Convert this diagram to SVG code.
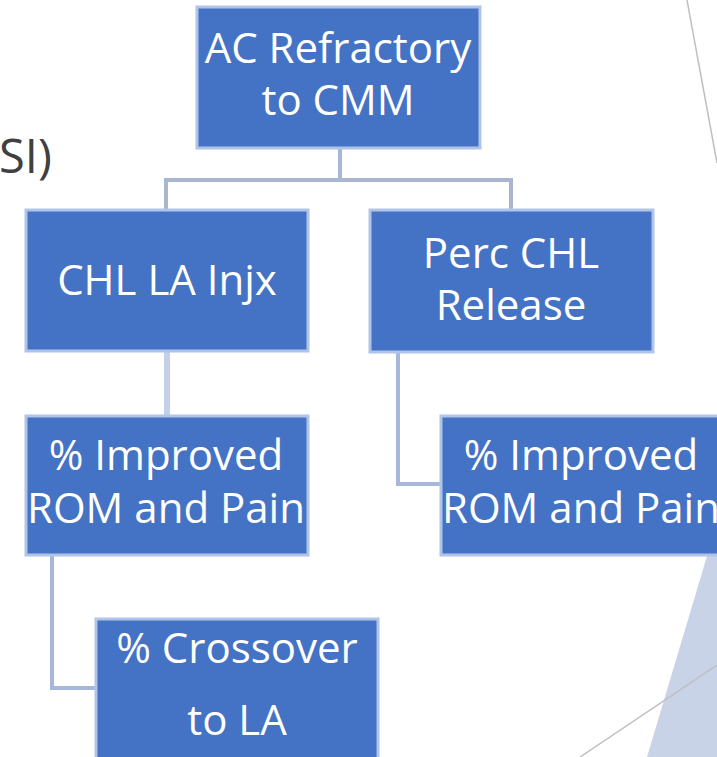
<svg xmlns="http://www.w3.org/2000/svg" width="717" height="757" viewBox="0 0 717 757">
<style>
.box{fill:#4472c4;stroke:#b0c4e8;stroke-width:3}
.t{fill:#ffffff;font-family:"Open Sans","Noto Sans",sans-serif;font-size:42px;text-anchor:middle}
.c{fill:none;stroke:#a6b7da;stroke-width:4}
.deco{stroke:#bfbfbf;stroke-width:1.5;fill:none}
</style>
<rect width="717" height="757" fill="#ffffff"/>
<g id="decor">
<polygon points="707,556 717,556 717,757 647,757" fill="#c9d3e8"/>
<line class="deco" x1="687" y1="0" x2="717" y2="163"/>
<line class="deco" x1="717" y1="665" x2="580" y2="757"/>
<text x="-1" y="173" font-family="Open Sans, Noto Sans, sans-serif" font-size="47" fill="#404040">SI)</text>
</g>
<g id="connectors">
<line class="c" x1="340" y1="148" x2="340" y2="180" stroke="#8d9dbf"/>
<polyline class="c" points="166,210 166,180 511,180 511,210" style="stroke:#aab6cf"/>
<line class="c" x1="167" y1="352" x2="167" y2="416" style="stroke:#c3d0ea;stroke-width:6"/>
<polyline class="c" points="398,352 398,484 442,484"/>
<polyline class="c" points="52,555 52,688 96,688"/>
</g>
<g id="n-ac">
<rect class="box" x="197" y="7" width="283" height="141"/>
<text class="t" x="338" y="63">AC Refractory</text>
<text class="t" x="338" y="115">to CMM</text>
</g>
<g id="n-chl">
<rect class="box" x="26" y="210" width="282" height="141"/>
<text class="t" x="167" y="295">CHL LA Injx</text>
</g>
<g id="n-perc">
<rect class="box" x="370" y="210" width="283" height="142"/>
<text class="t" x="511" y="268">Perc CHL</text>
<text class="t" x="511" y="320">Release</text>
</g>
<g id="n-imp-left">
<rect class="box" x="26" y="416" width="282" height="139"/>
<text class="t" x="166" y="470">% Improved</text>
<text class="t" x="166" y="523">ROM and Pain</text>
</g>
<g id="n-imp-right">
<rect class="box" x="441" y="416" width="282" height="139"/>
<text class="t" x="581" y="470">% Improved</text>
<text class="t" x="581" y="523">ROM and Pain</text>
</g>
<g id="n-cross">
<rect class="box" x="96" y="619" width="282" height="150"/>
<text class="t" x="237" y="663">% Crossover</text>
<text class="t" x="237" y="735">to LA</text>
</g>
</svg>
